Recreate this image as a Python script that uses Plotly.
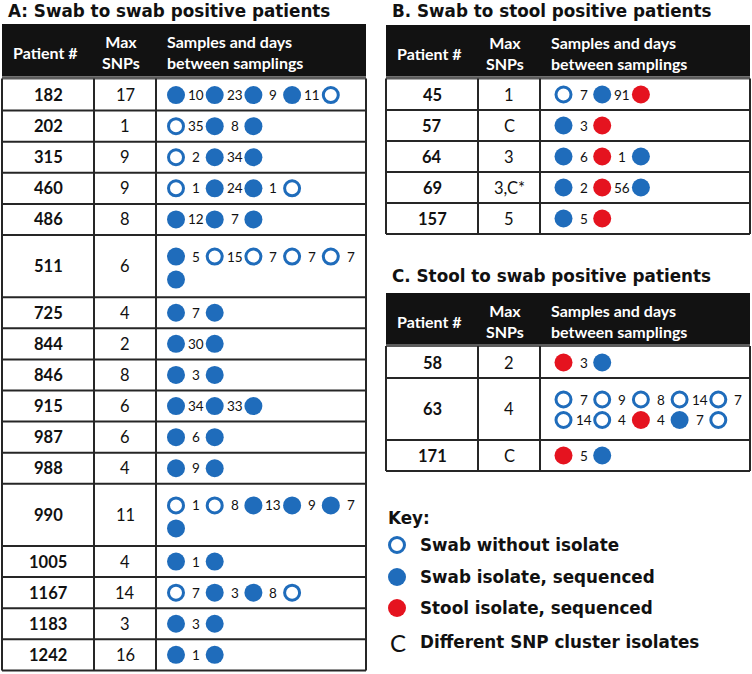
import math
import plotly.graph_objects as go

# ---------------- data ----------------
# sample codes: "o" = swab without isolate, "b" = swab isolate sequenced, "r" = stool isolate sequenced
A_title = "A: Swab to swab positive patients"
A_patients = ["182", "202", "315", "460", "486", "511", "725", "844", "846", "915",
              "987", "988", "990", "1005", "1167", "1183", "1242"]
A_max_snps = ["17", "1", "9", "9", "8", "6", "4", "2", "8", "6", "6", "4", "11", "4", "14", "3", "16"]
A_samples = ["bbbbo", "obb", "obb", "obbo", "bbb", "boooob", "bb", "bb", "bb", "bbb",
             "bb", "bb", "oobbbb", "bb", "obbo", "bb", "bb"]
A_days = [[10, 23, 9, 11], [35, 8], [2, 34], [1, 24, 1], [12, 7], [5, 15, 7, 7, 7], [7], [30], [3],
          [34, 33], [6], [9], [1, 8, 13, 9, 7], [1], [7, 3, 8], [3], [1]]

B_title = "B. Swab to stool positive patients"
B_patients = ["45", "57", "64", "69", "157"]
B_max_snps = ["1", "C", "3", "3,C*", "5"]
B_samples = ["obr", "br", "brb", "brb", "br"]
B_days = [[7, 91], [3], [6, 1], [2, 56], [5]]

C_title = "C. Stool to swab positive patients"
C_patients = ["58", "63", "171"]
C_max_snps = ["2", "4", "C"]
C_samples = ["rb", "ooooooorbo", "rb"]
C_days = [[3], [7, 9, 8, 14, 7, 14, 4, 4, 7], [5]]

header_labels = ["Patient #", "Max<br>SNPs", "Samples and days<br>between samplings"]
key_title = "Key:"
key_codes = ["o", "b", "r", "C"]
key_labels = ["Swab without isolate", "Swab isolate, sequenced", "Stool isolate, sequenced",
              "Different SNP cluster isolates"]

# ---------------- style ----------------
W, H = 752, 674
BLUE = "#1f6cbb"
RED = "#e5131f"
INK = "#111111"
LINE = "#262626"
HEAD = "#121212"
ARIAL = "DejaVu Sans"
CAL = "Lato"
PER_LINE = 5
SPACING = 38.7

shapes = []
annots = []
marks = {"o": ([], []), "b": ([], []), "r": ([], [])}


def text(x, y, s, size, family=CAL, color=INK, xanchor="center", bold=False, align="center"):
    annots.append(dict(x=x, y=y, xref="x", yref="y", text=("<b>%s</b>" % s) if bold else s,
                       showarrow=False, xanchor=xanchor, yanchor="middle", align=align,
                       font=dict(family=family, size=size, color=color), borderpad=0))


def line(xa, ya, xb, yb, w=2, color=LINE):
    shapes.append(dict(type="line", xref="x", yref="y", x0=xa, y0=ya, x1=xb, y1=yb,
                       line=dict(color=color, width=w)))


def table(title, title_y, cols, head_top, head_bot, body_top, unit, gap, first_off, circ_off,
          patients, snps, samples, days):
    x0, x1, x2, x3 = cols
    text(x0 + 5, title_y, title, 16.8, family=ARIAL, xanchor="left", bold=True)
    shapes.append(dict(type="rect", xref="x", yref="y", x0=x0, x1=x3, y0=head_top, y1=head_bot,
                       fillcolor=HEAD, line=dict(width=0)))
    line(x0, head_bot + 1.5, x3, head_bot + 1.5, w=3, color="#5c5c5c")
    text((x0 + x1) / 2 - 3, head_top + 28, header_labels[0], 16, color="white", bold=True)
    text((x1 + x2) / 2 - 4, head_top + 28, header_labels[1], 16, color="white", bold=True)
    text(x2 + 10, head_top + 28, header_labels[2], 16, color="white", bold=True,
         xanchor="left", align="left")
    y = body_top
    for p, s, smp, d in zip(patients, snps, samples, days):
        nlines = math.ceil(len(smp) / PER_LINE)
        h = unit * nlines
        cy = y + h / 2
        text((x0 + x1) / 2, cy, p, 16.5, bold=True)
        text((x1 + x2) / 2, cy, s, 16.5)
        base = cy if nlines == 1 else cy + first_off
        for i, code in enumerate(smp):
            ln, pos = divmod(i, PER_LINE)
            mx = x2 + circ_off + pos * SPACING
            my = base + ln * gap
            marks[code][0].append(mx)
            marks[code][1].append(my)
            if i < len(d):
                text(mx + 20, my, str(d[i]), 13.5)
        y += h
        line(x0, y, x3, y)
    bottom = y
    for xv in (x0, x1, x2, x3):
        line(xv, head_bot + 2, xv, bottom)


table(A_title, 11, (2, 94, 156, 366), 24, 76.5, 79.5, 31.1, 23, -9.5, 20,
      A_patients, A_max_snps, A_samples, A_days)
table(B_title, 11, (386, 478, 540, 750), 25, 76.5, 79, 31, 20.5, -9.5, 23.5,
      B_patients, B_max_snps, B_samples, B_days)
table(C_title, 276, (386, 478, 540, 750), 293, 344, 347, 31, 20.5, -9.5, 23.5,
      C_patients, C_max_snps, C_samples, C_days)

# key
text(387, 518, key_title, 16.8, family=ARIAL, xanchor="left", bold=True)
key_y = [545, 577, 608, 642]
for code, lab, ky in zip(key_codes, key_labels, key_y):
    if code in marks:
        marks[code][0].append(397)
        marks[code][1].append(ky)
    else:
        text(397.5, ky, code, 24)
    text(419, ky, lab, 16.8, family=ARIAL, xanchor="left", bold=True)

fig = go.Figure()
fig.add_trace(go.Scatter(x=marks["o"][0], y=marks["o"][1], mode="markers", hoverinfo="skip",
                         marker=dict(size=15, color="white", line=dict(color=BLUE, width=3))))
fig.add_trace(go.Scatter(x=marks["b"][0], y=marks["b"][1], mode="markers", hoverinfo="skip",
                         marker=dict(size=18, color=BLUE, line=dict(width=0))))
fig.add_trace(go.Scatter(x=marks["r"][0], y=marks["r"][1], mode="markers", hoverinfo="skip",
                         marker=dict(size=18, color=RED, line=dict(width=0))))

fig.update_layout(width=W, height=H, margin=dict(l=0, r=0, t=0, b=0), showlegend=False,
                  paper_bgcolor="white", plot_bgcolor="white",
                  shapes=shapes, annotations=annots)
fig.update_xaxes(range=[0, W], visible=False, fixedrange=True)
fig.update_yaxes(range=[H, 0], visible=False, fixedrange=True)
fig.write_html("out.html", config={"displayModeBar": False},
               post_script="document.body.style.margin='0';document.body.style.overflow='hidden';")
